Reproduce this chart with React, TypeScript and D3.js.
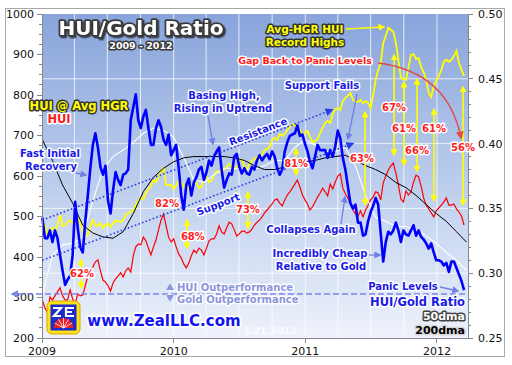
import React, { useRef, useEffect } from "react";
import * as d3 from "d3";

// weekly closes, first week ending 2009-01-02
const firstWeek = new Date(2009, 0, 2);

// HUI/Gold ratio (right axis)
const ratio = [
  0.343, 0.327, 0.327, 0.333, 0.324, 0.333, 0.327, 0.314, 0.302, 0.291,
  0.295, 0.298, 0.314, 0.355, 0.335, 0.32, 0.316, 0.34, 0.36, 0.381,
  0.399, 0.408, 0.397, 0.382, 0.376, 0.383, 0.356, 0.346, 0.364, 0.378,
  0.372, 0.368, 0.376, 0.377, 0.38, 0.418, 0.428, 0.438, 0.418, 0.412,
  0.421, 0.426, 0.412, 0.399, 0.399, 0.412, 0.418, 0.413, 0.403, 0.399,
  0.407, 0.391, 0.395, 0.399, 0.381, 0.36, 0.349, 0.368, 0.373, 0.36,
  0.37, 0.374, 0.38, 0.382, 0.372, 0.378, 0.387, 0.383, 0.39, 0.394,
  0.397, 0.38, 0.366, 0.372, 0.377, 0.376, 0.39, 0.392, 0.382, 0.377,
  0.381, 0.377, 0.376, 0.382, 0.38, 0.387, 0.391, 0.387, 0.39, 0.392,
  0.388, 0.394, 0.39, 0.381, 0.376, 0.38, 0.394, 0.401, 0.406, 0.407,
  0.408, 0.414, 0.406, 0.407, 0.4, 0.394, 0.386, 0.381, 0.39, 0.399,
  0.395, 0.395, 0.395, 0.389, 0.395, 0.39, 0.398, 0.41, 0.404, 0.389,
  0.38, 0.367, 0.354, 0.35, 0.353, 0.339, 0.339, 0.329, 0.33, 0.34,
  0.347, 0.352, 0.358, 0.353, 0.331, 0.309, 0.324, 0.332, 0.33, 0.333,
  0.339, 0.333, 0.324, 0.333, 0.33, 0.329, 0.333, 0.337, 0.329, 0.333,
  0.328, 0.326, 0.323, 0.319, 0.323, 0.316, 0.31, 0.31, 0.309, 0.306,
  0.308, 0.301, 0.309, 0.309, 0.304, 0.299, 0.294, 0.287,
];

// HUI (left axis)
const hui = [
  294, 274, 264, 301, 294, 304, 314, 324, 304, 294,
  294, 319, 296, 284, 309, 304, 306, 329, 353, 368,
  375, 388, 393, 366, 343, 338, 329, 316, 336, 346,
  353, 361, 351, 366, 373, 363, 403, 425, 432, 430,
  449, 440, 422, 405, 425, 442, 467, 491, 506, 477,
  449, 437, 445, 425, 407, 398, 383, 373, 385, 403,
  417, 410, 422, 417, 405, 422, 440, 445, 445, 457,
  477, 462, 457, 472, 486, 482, 467, 452, 457, 464,
  464, 459, 462, 469, 479, 486, 491, 499, 509, 516,
  524, 531, 541, 543, 533, 526, 541, 553, 561, 570,
  580, 590, 573, 553, 541, 531, 516, 524, 536, 548,
  558, 570, 561, 551, 580, 568, 585, 600, 605, 570,
  556, 546, 531, 516, 506, 501, 514, 499, 516, 528,
  541, 548, 561, 558, 541, 583, 600, 615, 625, 632,
  607, 578, 543, 536, 563, 553, 561, 585, 602, 598,
  575, 546, 528, 519, 509, 499, 514, 521, 528, 536,
  546, 528, 528, 531, 519, 511, 501, 479,
];

// HUI at average HUI/Gold ratio (left axis)
const huiAvgHgr = [
  462, 477, 457, 467, 472, 462, 479, 504, 477, 479,
  486, 491, 484, 494, 496, 484, 462, 452, 454, 474,
  491, 479, 477, 484, 472, 479, 482, 474, 484, 489,
  489, 486, 491, 504, 509, 511, 516, 528, 538, 548,
  543, 558, 568, 575, 590, 585, 598, 612, 620, 578,
  578, 578, 568, 578, 588, 585, 573, 573, 568, 570,
  583, 583, 570, 575, 593, 598, 585, 588, 603, 612,
  610, 610, 617, 622, 630, 622, 617, 622, 642, 640,
  625, 615, 630, 637, 642, 647, 640, 652, 664, 667,
  672, 689, 694, 689, 704, 699, 704, 714, 721, 728,
  726, 721, 714, 699, 706, 711, 696, 684, 686, 691,
  706, 719, 731, 736, 731, 753, 765, 768, 763, 785,
  793, 798, 805, 788, 783, 783, 788, 780, 785, 780,
  768, 800, 837, 862, 879, 928, 946, 966, 961, 956,
  928, 887, 842, 840, 837, 869, 899, 901, 889, 891,
  869, 857, 837, 805, 795, 822, 835, 847, 862, 882,
  887, 882, 887, 896, 909, 879, 862, 847,
];

// moving averages of the ratio, every 4 weeks
const ma50 = [
  0.283, 0.314, 0.322, 0.323, 0.328, 0.356, 0.38, 0.39, 0.395, 0.401,
  0.408, 0.412, 0.41, 0.405, 0.389, 0.372, 0.37, 0.376, 0.381, 0.381,
  0.38, 0.38, 0.383, 0.387, 0.387, 0.397, 0.403, 0.399, 0.394, 0.394,
  0.397, 0.383, 0.36, 0.343, 0.34, 0.336, 0.336, 0.333, 0.329, 0.323,
  0.316, 0.31, 0.302,
];
const ma200 = [
  0.403, 0.387, 0.368, 0.354, 0.337, 0.331, 0.328, 0.327, 0.332, 0.346,
  0.363, 0.374, 0.381, 0.386, 0.389, 0.39, 0.39, 0.39, 0.39, 0.389,
  0.387, 0.383, 0.38, 0.38, 0.382, 0.384, 0.386, 0.387, 0.389, 0.39,
  0.391, 0.387, 0.383, 0.38, 0.376, 0.37, 0.366, 0.36, 0.353, 0.346,
  0.34, 0.332, 0.324,
];

const leftTicks = [200, 300, 400, 500, 600, 700, 800, 900, 1000];
const rightTicks = [0.25, 0.3, 0.35, 0.4, 0.45, 0.5];
const yearTicks = [2009, 2010, 2011, 2012];

// gaps between HUI and HUI @ avg HGR (week index, arrow ends in HUI units)
const gapLabels = ["62%", "82%", "68%", "73%", "81%", "63%", "67%", "61%", "66%", "61%", "56%"];
const gapWeeks = [15.3, 49.4, 57.3, 81.4, 100.5, 127.8, 139.3, 143.2, 148.4, 155.1, 166.6];
const gapTop = [398, 0, 496, 565, 672, 763, 904, 837, 844, 770, 825];
const gapBottom = [319, 0, 417, 467, 598, 524, 647, 622, 607, 534, 524];
const gapLabelWeeks = [15.7, 49.4, 59.6, 81.4, 100.5, 126.6, 139.3, 143.2, 148.4, 155.1, 166.6];
const gapLabelValues = [361, 533, 452, 519, 632, 644, 770, 719, 664, 719, 672];

// channel lines [week, ratio]
const resistance = [[0, 0.341], [114.7, 0.426]];
const support = [[0, 0.31], [123, 0.4]];
const panicLevel = 0.284;

const FONT = "'DejaVu Sans', Verdana, sans-serif";
const BLUE_TXT = "#1a1ae8";
const ARROW_BLUE = "#6f7fe6";

export default function App() {
  const svgRef = useRef<SVGSVGElement>(null);

  useEffect(() => {
    const svg = d3.select(svgRef.current);
    svg.selectAll("*").remove();

    const left = 42, right = 468, top = 14, bottom = 338;
    const x = d3
      .scaleTime()
      .domain([new Date(2009, 0, 1), new Date(2012, 2, 27)])
      .range([left, right]);
    const yL = d3.scaleLinear().domain([200, 1000]).range([bottom, top]);
    const yR = d3.scaleLinear().domain([0.25, 0.5]).range([bottom, top]);
    const wk = (i: number) => x(d3.timeHour.offset(firstWeek, Math.round(i * 7 * 24)));

    const defs = svg.append("defs");
    const grad = defs
      .append("linearGradient")
      .attr("id", "bg")
      .attr("x1", 0).attr("y1", 0).attr("x2", 0).attr("y2", 1);
    grad.append("stop").attr("offset", "0%").attr("stop-color", "#88a4db");
    grad.append("stop").attr("offset", "55%").attr("stop-color", "#bfd0ee");
    grad.append("stop").attr("offset", "100%").attr("stop-color", "#eef2fb");

    defs
      .append("filter")
      .attr("id", "shadow")
      .append("feDropShadow")
      .attr("dx", 1.5).attr("dy", 1.5).attr("stdDeviation", 0.6)
      .attr("flood-color", "#222").attr("flood-opacity", 0.8);

    const marker = (id: string, color: string, size: number) =>
      defs
        .append("marker")
        .attr("id", id)
        .attr("viewBox", "0 0 10 10")
        .attr("refX", 8)
        .attr("refY", 5)
        .attr("markerUnits", "userSpaceOnUse")
        .attr("markerWidth", size)
        .attr("markerHeight", size)
        .attr("orient", "auto-start-reverse")
        .append("path")
        .attr("d", "M0,0 L10,5 L0,10 Z")
        .attr("fill", color);
    marker("arrY", "#ffff00", 7);
    marker("arrB", ARROW_BLUE, 7);
    marker("arrD", "#2a3ee8", 8);
    marker("arrR", "#e04a4a", 8);
    marker("arrP", "#7d84ea", 8);

    // frame
    svg
      .append("rect")
      .attr("x", 5.5).attr("y", 8.5).attr("width", 499).attr("height", 348)
      .attr("fill", "#fff").attr("stroke", "#a8a8a8");

    svg
      .append("rect")
      .attr("x", left).attr("y", top)
      .attr("width", right - left).attr("height", bottom - top)
      .attr("fill", "url(#bg)");

    // grid
    const grid = svg.append("g").attr("stroke", "#fff").attr("stroke-opacity", 0.75);
    grid
      .selectAll("line.v")
      .data(d3.timeMonth.every(3)!.range(new Date(2009, 3, 1), new Date(2012, 2, 27)))
      .join("line")
      .attr("x1", (d) => x(d)).attr("x2", (d) => x(d))
      .attr("y1", top).attr("y2", bottom);
    grid
      .selectAll("line.h")
      .data(rightTicks.slice(1, -1))
      .join("line")
      .attr("x1", left).attr("x2", right)
      .attr("y1", (d) => yR(d)).attr("y2", (d) => yR(d));

    // series
    const lineL = d3.line<number>().x((_, i) => wk(i)).y((d) => yL(d));
    const lineR = d3.line<number>().x((_, i) => wk(i)).y((d) => yR(d));
    const lineMA = d3.line<number>().x((_, i) => wk(i * 4)).y((d) => yR(d));

    svg.append("path").attr("d", lineL(hui)).attr("fill", "none")
      .attr("stroke", "#ff0000").attr("stroke-width", 1.2);
    svg.append("path").attr("d", lineL(huiAvgHgr)).attr("fill", "none")
      .attr("stroke", "#ffff00").attr("stroke-width", 1.8);
    svg.append("path").attr("d", lineMA(ma50)).attr("fill", "none")
      .attr("stroke", "#ffffff").attr("stroke-width", 1.1);
    svg.append("path").attr("d", lineMA(ma200)).attr("fill", "none")
      .attr("stroke", "#000").attr("stroke-width", 1);
    svg.append("path").attr("d", lineR(ratio)).attr("fill", "none")
      .attr("stroke", "#0000ff").attr("stroke-width", 2.6)
      .attr("stroke-linejoin", "round");

    // axes
    const axis = svg.append("g").attr("stroke", "#888").attr("shape-rendering", "crispEdges");
    axis.append("line").attr("x1", left).attr("x2", left).attr("y1", top).attr("y2", bottom);
    axis.append("line").attr("x1", right).attr("x2", right).attr("y1", top).attr("y2", bottom);
    axis.append("line").attr("x1", left).attr("x2", right).attr("y1", bottom).attr("y2", bottom);
    axis
      .selectAll("line.lt")
      .data(d3.range(200, 1001, 25))
      .join("line")
      .attr("x1", (d) => (d % 100 === 0 ? left - 5 : left - 3)).attr("x2", left)
      .attr("y1", (d) => yL(d)).attr("y2", (d) => yL(d));
    axis
      .selectAll("line.rt")
      .data(d3.range(25, 51).map((d) => d / 100))
      .join("line")
      .attr("x1", right)
      .attr("x2", (_, i) => (i % 5 === 0 ? right + 5 : right + 3))
      .attr("y1", (d) => yR(d)).attr("y2", (d) => yR(d));
    axis
      .selectAll("line.bt")
      .data(yearTicks)
      .join("line")
      .attr("x1", (d) => x(new Date(d, 0, 1))).attr("x2", (d) => x(new Date(d, 0, 1)))
      .attr("y1", bottom).attr("y2", bottom + 5);

    const tickText = svg.append("g").attr("font-family", FONT).attr("font-size", 11).attr("fill", "#111");
    tickText
      .selectAll("text.l")
      .data(leftTicks)
      .join("text")
      .attr("x", 34).attr("y", (d) => yL(d)).attr("dy", "0.36em")
      .attr("text-anchor", "end").text((d) => d);
    tickText
      .selectAll("text.r")
      .data(rightTicks)
      .join("text")
      .attr("x", 478).attr("y", (d) => yR(d)).attr("dy", "0.36em")
      .text((d) => d3.format(".2f")(d));
    tickText
      .selectAll("text.b")
      .data(yearTicks)
      .join("text")
      .attr("x", (d) => x(new Date(d, 0, 1))).attr("y", 355)
      .attr("text-anchor", "middle").text((d) => d);

    // channel lines
    const chan = d3.line<number[]>().x((d) => wk(d[0])).y((d) => yR(d[1]));
    [resistance, support].forEach((pts) =>
      svg.append("path").attr("d", chan(pts)).attr("fill", "none")
        .attr("stroke", "#2a3ee8").attr("stroke-width", 1.6)
        .attr("stroke-dasharray", "1.6,2.2").attr("marker-end", "url(#arrD)")
    );

    // panic line
    svg.append("line")
      .attr("x1", 465).attr("x2", 12)
      .attr("y1", yR(panicLevel)).attr("y2", yR(panicLevel))
      .attr("stroke", "#7d84ea").attr("stroke-width", 1.6)
      .attr("stroke-dasharray", "6,3").attr("marker-end", "url(#arrP)");

    // gap arrows
    const gaps = svg.append("g");
    gapWeeks.forEach((w, i) => {
      if (!gapTop[i]) return;
      gaps.append("line")
        .attr("x1", wk(w)).attr("x2", wk(w))
        .attr("y1", yL(gapTop[i]) + 2).attr("y2", yL(gapBottom[i]) - 2)
        .attr("stroke", "#ffff00").attr("stroke-width", 1.6)
        .attr("marker-start", "url(#arrY)").attr("marker-end", "url(#arrY)");
    });

    const ann = svg.append("g").attr("font-family", FONT).attr("font-weight", "bold")
      .attr("stroke-linejoin", "round").attr("paint-order", "stroke");
    const label = (
      t: string, px: number, py: number, size: number, fill: string,
      stroke: string, anchor = "middle", sw = 3
    ) =>
      ann.append("text").attr("x", px).attr("y", py).attr("font-size", size)
        .attr("text-anchor", anchor).attr("fill", fill)
        .attr("stroke", stroke).attr("stroke-width", sw).text(t);

    gapLabels.forEach((t, i) =>
      label(t, wk(gapLabelWeeks[i]), yL(gapLabelValues[i]) + 4, 10, "#ff1e1e", "#fff")
    );

    const arrow = (x1: number, y1: number, x2: number, y2: number, color: string, m: string) =>
      svg.append("line").attr("x1", x1).attr("y1", y1).attr("x2", x2).attr("y2", y2)
        .attr("stroke", color).attr("stroke-width", 1.3).attr("marker-end", `url(#${m})`);
    arrow(76, 173, 86, 175, ARROW_BLUE, "arrB");
    arrow(208, 116, 213, 144, ARROW_BLUE, "arrB");
    arrow(357, 94, 348, 139, ARROW_BLUE, "arrB");
    arrow(341, 224, 345, 197, ARROW_BLUE, "arrB");
    arrow(369, 255, 380, 255, ARROW_BLUE, "arrB");
    arrow(440, 287, 458, 291, ARROW_BLUE, "arrB");
    arrow(346, 29, 384, 27, "#ffff00", "arrY");
    svg.append("path").attr("d", "M378,63 Q448,72 461,138").attr("fill", "none")
      .attr("stroke", "#e04a4a").attr("stroke-width", 1.4).attr("marker-end", "url(#arrR)");

    // title
    label("HUI/Gold Ratio", 141, 35, 20, "#fff", "#3a3a3a", "middle", 3.5)
      .attr("filter", "url(#shadow)");
    label("2009 - 2012", 141, 49, 9.5, "#fff", "#3a3a3a", "middle", 3);

    label("HUI @ Avg HGR", 79, 109.5, 11.5, "#ffff00", "#333", "middle", 3);
    label("HUI", 59, 123, 11.5, "#ff1a1a", "#fff");
    label("Fast Initial", 50, 157, 10, BLUE_TXT, "#fff");
    label("Recovery", 51, 169.5, 10, BLUE_TXT, "#fff");
    label("Basing High,", 224, 98.5, 10, BLUE_TXT, "#fff");
    label("Rising in Uptrend", 223, 111.5, 10, BLUE_TXT, "#fff");
    label("Resistance", 258, 135, 10, BLUE_TXT, "#fff").attr("transform", "rotate(-21 258 131)");
    label("Support", 218, 208, 10, BLUE_TXT, "#fff").attr("transform", "rotate(-21 218 204)");
    label("Gap Back to Panic Levels", 305, 64, 9.5, "#ff1a1a", "#fff");
    label("Avg-HGR HUI", 305, 32.5, 10.5, "#ffff00", "#333");
    label("Record Highs", 305, 45.5, 10.5, "#ffff00", "#333");
    label("Support Fails", 322, 89, 10, BLUE_TXT, "#fff");
    label("Collapses Again", 311, 233, 10, BLUE_TXT, "#fff");
    label("Incredibly Cheap", 320, 256.5, 10, BLUE_TXT, "#fff");
    label("Relative to Gold", 321, 269.5, 10, BLUE_TXT, "#fff");
    label("Panic Levels", 403, 290, 10, BLUE_TXT, "#fff");
    label("HUI/Gold Ratio", 465, 306, 11.5, BLUE_TXT, "#fff", "end");
    label("50dma", 465, 320, 11, "#fff", "#444", "end", 3);
    label("200dma", 465, 334, 11, "#000", "#d8d8d8", "end", 3);
    label("HUI Outperformance", 177, 290.5, 10, "#8a96dc", "#fff", "start");
    label("Gold Outperformance", 177, 302.5, 10, "#8a96dc", "#fff", "start");
    ann.append("path").attr("d", "M166,290 L170,283 L174,290 Z").attr("fill", "#8a96dc")
      .attr("stroke", "#fff").attr("stroke-width", 1);
    ann.append("path").attr("d", "M166,295 L170,302 L174,295 Z").attr("fill", "#8a96dc")
      .attr("stroke", "#fff").attr("stroke-width", 1);
    label("www.ZealLLC.com", 164, 326, 15, "#1414ee", "#fff", "middle", 3.5);
    label("3.21.2012", 270, 334, 9.5, "#fff", "none").attr("fill-opacity", 0.75);

    // logo
    const logo = svg.append("g").attr("transform", "translate(47,301)");
    logo.append("rect").attr("width", 33).attr("height", 33).attr("rx", 5)
      .attr("fill", "#ffe21a").attr("stroke", "#d8a400");
    logo.append("rect").attr("x", 3.5).attr("y", 3.5).attr("width", 26).attr("height", 26)
      .attr("fill", "#1a2ccc");
    logo.append("path").attr("d", "M6,7 H14 L7,15 H14 M27,7 H19 V15 H27 M19,11 H25")
      .attr("fill", "none").attr("stroke", "#fff").attr("stroke-width", 2.2);
    const fan = d3.arc()({ innerRadius: 0, outerRadius: 10, startAngle: -Math.PI / 2, endAngle: Math.PI / 2 });
    logo.append("path").attr("d", fan).attr("transform", "translate(16.5,27)").attr("fill", "#e8202a");
    logo.append("g").attr("transform", "translate(16.5,27)")
      .selectAll("line")
      .data([-60, -30, 0, 30, 60])
      .join("line")
      .attr("x2", (d) => 10 * Math.sin((d * Math.PI) / 180))
      .attr("y2", (d) => -10 * Math.cos((d * Math.PI) / 180))
      .attr("stroke", "#fff").attr("stroke-width", 0.8);
  }, []);

  return (
    <svg
      ref={svgRef}
      width={512}
      height={365}
      style={{ position: "absolute", left: 0, top: 0, background: "#fff" }}
    />
  );
}
